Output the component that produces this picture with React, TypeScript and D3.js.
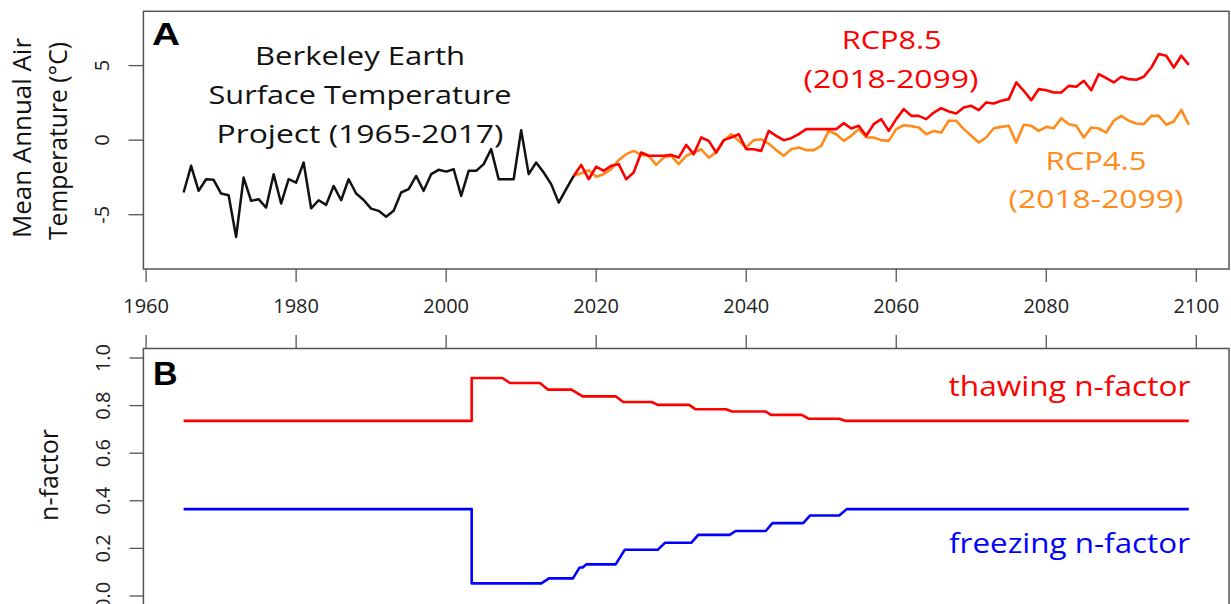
import React from "react";
import * as d3 from "d3";

// ---------- data ----------
const xTickYears = [1960, 1980, 2000, 2020, 2040, 2060, 2080, 2100];
const tempTicks = [-5, 0, 5];
const nTicks = [0, 0.2, 0.4, 0.6, 0.8, 1.0];

// Berkeley Earth observed mean annual air temperature, 1965-2017
const obsStartYear = 1965;
const observedTemp = [
  -3.51, -1.72, -3.4, -2.62, -2.66, -3.58, -3.69, -6.49, -2.51, -4.07,
  -3.96, -4.52, -2.28, -4.25, -2.62, -2.85, -1.5, -4.57, -4.03, -4.34,
  -3.07, -4.03, -2.62, -3.58, -4.01, -4.59, -4.74, -5.13, -4.74, -3.51,
  -3.29, -2.4, -3.4, -2.28, -1.99, -2.11, -1.95, -3.74, -2.06, -2.06,
  -1.61, -0.6, -2.62, -2.62, -2.62, 0.67, -2.28, -1.5, -2.17, -2.95,
  -4.19, -3.29, -2.4,
];

// Projections 2018-2099
const projStartYear = 2018;
const rcp85 = [
  -1.66, -2.62, -1.77, -2.06, -1.72, -1.61, -2.62, -2.17, -0.83, -1.05,
  -1.05, -1.05, -0.99, -1.17, -0.32, -0.94, 0.18, -0.05, -0.83, 0.0,
  0.18, 0.4, -0.61, -0.61, -0.72, 0.62, 0.29, 0.0, 0.13, 0.4,
  0.74, 0.74, 0.74, 0.74, 0.74, 1.14, 0.78, 0.96, 0.29, 1.07,
  1.41, 0.62, 1.41, 2.08, 1.63, 1.63, 1.41, 1.85, 2.15, 1.92,
  1.79, 2.19, 2.3, 2.01, 2.53, 2.46, 2.64, 2.75, 3.87, 3.31,
  2.68, 3.42, 3.35, 3.2, 3.2, 3.64, 3.58, 3.98, 3.35, 4.43,
  4.16, 3.87, 4.25, 4.09, 4.05, 4.25, 4.87, 5.77, 5.66, 4.87,
  5.66, 5.05,
];
const rcp45 = [
  -2.22, -2.02, -2.46, -2.28, -1.95, -1.34, -0.94, -0.72, -0.99, -1.05,
  -1.66, -1.17, -1.05, -1.61, -1.05, -0.83, -0.61, -1.17, -0.83, -0.05,
  0.4, -0.05, -0.49, 0.0, 0.06, -0.23, -0.67, -1.05, -0.61, -0.49,
  -0.67, -0.67, -0.38, 0.62, 0.4, -0.05, 0.29, 0.74, 0.18, 0.18,
  0.0, -0.05, 0.74, 1.0, 0.94, 0.85, 0.4, 0.62, 0.51, 1.3,
  1.3, 0.74, 0.29, -0.16, 0.18, 0.8, 0.89, 0.96, -0.16, 1.03,
  0.96, 0.62, 0.89, 0.8, 1.47, 1.07, 0.96, 0.18, 0.85, 0.78,
  0.51, 1.3, 1.63, 1.3, 1.12, 1.07, 1.63, 1.63, 1.03, 1.25,
  2.03, 1.03,
];

// n-factor step levels (start year, end year, value)
const thawStart = [1965, 2003.4, 2008.5, 2013.6, 2018.2, 2023.6, 2028.2, 2033.2, 2038.1, 2043.3, 2048.3, 2053.2];
const thawEnd = [2003.4, 2007.5, 2012.5, 2016.7, 2022.6, 2027.4, 2032.4, 2037.3, 2042.6, 2047.4, 2052.4, 2099];
const thawValue = [0.736, 0.916, 0.895, 0.867, 0.839, 0.815, 0.803, 0.785, 0.775, 0.761, 0.745, 0.736];

const freezeStart = [1965, 2003.4, 2013.7, 2017.8, 2018.7, 2023.8, 2029.2, 2033.6, 2038.6, 2043.5, 2048.5, 2053.4];
const freezeEnd = [2003.4, 2012.7, 2016.9, 2018.2, 2022.6, 2028.2, 2032.7, 2037.8, 2042.6, 2047.6, 2052.4, 2099];
const freezeValue = [0.365, 0.053, 0.074, 0.12, 0.133, 0.194, 0.224, 0.257, 0.273, 0.306, 0.338, 0.365];

// ---------- layout ----------
const W = 1231;
const H = 604;
const FONT = "'Open Sans', 'DejaVu Sans', sans-serif";
const AXIS = "#555";
const RED = "#ff0000";
const ORANGE = "#ff8c1a";
const BLUE = "#0000ff";

const x = d3.scaleLinear().domain([1959.64, 2104.36]).range([143.4, 1229]);
const yTop = d3.scaleLinear().domain([-8.64, 8.64]).range([269, 11.3]);
const yBot = d3.scaleLinear().domain([-0.04, 1.04]).range([605.5, 348.5]);

type P = [number, number];

function steps(s: number[], e: number[], v: number[]): P[] {
  const pts: P[] = [];
  s.forEach((st, i) => {
    pts.push([st, v[i]]);
    pts.push([e[i], v[i]]);
  });
  return pts;
}

export default function App() {
  const lineTop = d3.line<P>().x((d) => x(d[0])).y((d) => yTop(d[1]));
  const lineBot = d3.line<P>().x((d) => x(d[0])).y((d) => yBot(d[1]));

  const obs: P[] = observedTemp.map((v, i) => [obsStartYear + i, v]);
  const last = obs[obs.length - 1];
  const p85: P[] = [last, ...rcp85.map((v, i) => [projStartYear + i, v] as P)];
  const p45: P[] = [last, ...rcp45.map((v, i) => [projStartYear + i, v] as P)];

  const thaw = steps(thawStart, thawEnd, thawValue);
  const freeze = steps(freezeStart, freezeEnd, freezeValue);

  const [x0, x1] = x.range();
  const fmt1 = d3.format(".1f");

  return (
    <svg
      width={W}
      height={H}
      style={{ position: "absolute", left: 0, top: 0, background: "#fff" }}
      fontFamily={FONT}
    >
      <rect x={0} y={0} width={W} height={H} fill="#fff" />

      {/* ===== Panel A ===== */}
      <rect x={x0} y={yTop.range()[1]} width={x1 - x0} height={yTop.range()[0] - yTop.range()[1]}
        fill="none" stroke={AXIS} strokeWidth={1.5} />
      {tempTicks.map((t) => (
        <g key={"tt" + t}>
          <line x1={128.5} x2={x0} y1={yTop(t)} y2={yTop(t)} stroke={AXIS} strokeWidth={1.3} />
          <text transform={`translate(108.5,${yTop(t)}) rotate(-90)`} textAnchor="middle"
            fontSize={20} fill="#222">{t < 0 ? "-" + Math.abs(t) : String(t)}</text>
        </g>
      ))}
      {xTickYears.map((yr) => (
        <g key={"xa" + yr}>
          <line x1={x(yr)} x2={x(yr)} y1={269} y2={282} stroke={AXIS} strokeWidth={1.3} />
          <text x={x(yr)} y={313} textAnchor="middle" fontSize={20} fill="#222">{yr}</text>
        </g>
      ))}
      <text transform="translate(30.5,138) rotate(-90)" textAnchor="middle" fontSize={25} fill="#111"
        textLength={200} lengthAdjust="spacingAndGlyphs">Mean Annual Air</text>
      <text transform="translate(66.5,141) rotate(-90)" textAnchor="middle" fontSize={25} fill="#111"
        textLength={198} lengthAdjust="spacingAndGlyphs">Temperature (°C)</text>

      <path d={lineTop(p45) || ""} fill="none" stroke={ORANGE} strokeWidth={2.6} strokeLinejoin="round" />
      <path d={lineTop(p85) || ""} fill="none" stroke={RED} strokeWidth={2.6} strokeLinejoin="round" />
      <path d={lineTop(obs) || ""} fill="none" stroke="#111" strokeWidth={2.5} strokeLinejoin="round" />

      <text x={152} y={45} fontSize={32} fontWeight="bold" fill="#000" fontFamily="'Liberation Sans', Arial, sans-serif"
        textLength={28} lengthAdjust="spacingAndGlyphs">A</text>
      <text x={360} y={65} textAnchor="middle" fontSize={26} fill="#111" textLength={210} lengthAdjust="spacingAndGlyphs">Berkeley Earth</text>
      <text x={360} y={103.5} textAnchor="middle" fontSize={26} fill="#111" textLength={303} lengthAdjust="spacingAndGlyphs">Surface Temperature</text>
      <text x={360} y={143} textAnchor="middle" fontSize={26} fill="#111" textLength={287} lengthAdjust="spacingAndGlyphs">Project (1965-2017)</text>

      <text x={891.7} y={48.5} textAnchor="middle" fontSize={26} fill={RED} textLength={100} lengthAdjust="spacingAndGlyphs">RCP8.5</text>
      <text x={891} y={88} textAnchor="middle" fontSize={26} fill={RED} textLength={175} lengthAdjust="spacingAndGlyphs">(2018-2099)</text>
      <text x={1096} y={170} textAnchor="middle" fontSize={26} fill={ORANGE} textLength={101} lengthAdjust="spacingAndGlyphs">RCP4.5</text>
      <text x={1096} y={208} textAnchor="middle" fontSize={26} fill={ORANGE} textLength={175} lengthAdjust="spacingAndGlyphs">(2018-2099)</text>

      {/* ===== Panel B ===== */}
      <rect x={x0} y={yBot.range()[1]} width={x1 - x0} height={yBot.range()[0] - yBot.range()[1]}
        fill="none" stroke={AXIS} strokeWidth={1.5} />
      {xTickYears.map((yr) => (
        <line key={"xb" + yr} x1={x(yr)} x2={x(yr)} y1={335} y2={yBot.range()[1]} stroke={AXIS} strokeWidth={1.3} />
      ))}
      {nTicks.map((t) => (
        <g key={"nt" + t}>
          <line x1={129.5} x2={x0} y1={yBot(t)} y2={yBot(t)} stroke={AXIS} strokeWidth={1.3} />
          <text transform={`translate(109.5,${yBot(t)}) rotate(-90)`} textAnchor="middle"
            fontSize={20} fill="#222">{fmt1(t)}</text>
        </g>
      ))}
      <text transform="translate(58,475) rotate(-90)" textAnchor="middle" fontSize={25} fill="#111">n-factor</text>

      <path d={lineBot(thaw) || ""} fill="none" stroke={RED} strokeWidth={2.6} strokeLinejoin="round" />
      <path d={lineBot(freeze) || ""} fill="none" stroke={BLUE} strokeWidth={2.6} strokeLinejoin="round" />

      <text x={153} y={385} fontSize={34} fontWeight="bold" fill="#000" fontFamily="'Liberation Sans', Arial, sans-serif">B</text>
      <text x={1190.5} y={396} textAnchor="end" fontSize={27} fill={RED} textLength={242} lengthAdjust="spacingAndGlyphs">thawing n-factor</text>
      <text x={1190} y={553} textAnchor="end" fontSize={27} fill={BLUE} textLength={241} lengthAdjust="spacingAndGlyphs">freezing n-factor</text>
    </svg>
  );
}
